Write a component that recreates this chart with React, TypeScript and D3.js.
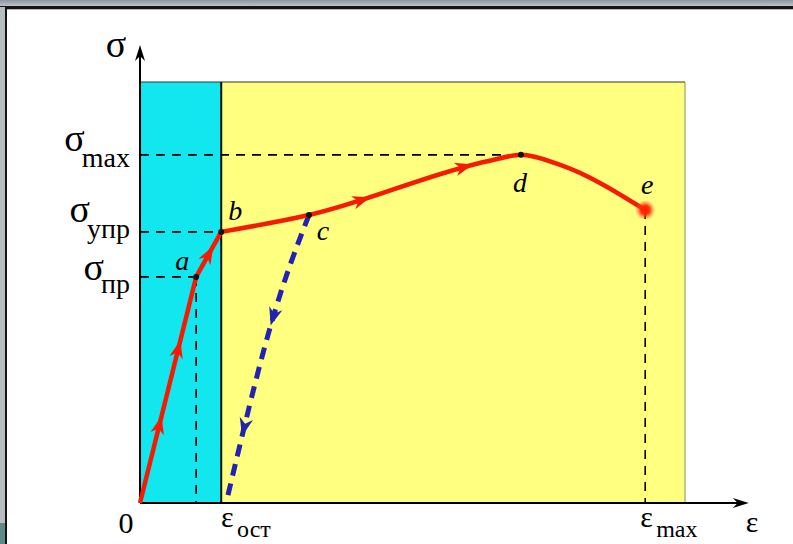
import { useEffect, useRef } from 'react';
import * as d3 from 'd3';

// stress-strain curve, arbitrary units (strain 0..10 across the plot box, stress 0..10 up to its top)
const pointNames = ['0', 'a', 'b', 'c', 'd', 'e'];
const strain = [0, 1.03, 1.49, 3.1, 6.99, 9.27];
const stress = [0, 5.37, 6.44, 6.84, 8.27, 6.96];

// extra points on the hardening part (c..d) and the necking part (d..e)
const hardenStrain = [6.42];
const hardenStress = [8.13];
const neckStrain = [7.71];
const neckStress = [8.03];

// unloading from c back to the residual strain
const unloadStrain = [3.1, 2.39, 1.58];
const unloadStress = [6.84, 4.18, 0];

// tick labels on the axes
const stressTickNames = ['max', 'упр', 'пр'];
const stressTickValues = [8.27, 6.44, 5.37];
const strainTickNames = ['ост', 'max'];
const strainTickValues = [1.58, 9.27];

// where the direction arrows sit (fraction of the path length)
const loadArrows = [0.11, 0.217, 0.354, 0.586, 0.733];
const unloadArrows = [0.36, 0.74];

export default function App() {
  const svgRef = useRef<SVGSVGElement>(null);

  useEffect(() => {
    if (!svgRef.current) return;
    const svg = d3.select(svgRef.current);
    svg.selectAll('*').remove();

    const W = 793, H = 544;
    const x = d3.scaleLinear().domain([0, 10]).range([140, 685]);
    const y = d3.scaleLinear().domain([0, 10]).range([503, 82]);
    const xAxisEnd = x(11.17);
    const yAxisEnd = y(10.88);

    const red = '#f51a00';
    const blue = '#2222b4';
    const serif = '"Liberation Serif", "DejaVu Serif", serif';

    const defs = svg.append('defs');
    const frameGrad = defs.append('linearGradient').attr('id', 'frame').attr('x1', 0).attr('y1', 0).attr('x2', 0).attr('y2', 1);
    frameGrad.append('stop').attr('offset', '0%').attr('stop-color', '#8e979f');
    frameGrad.append('stop').attr('offset', '100%').attr('stop-color', '#c3c9ce');
    const glow = defs.append('radialGradient').attr('id', 'glow');
    glow.append('stop').attr('offset', '0%').attr('stop-color', '#ff1a00').attr('stop-opacity', 1);
    glow.append('stop').attr('offset', '45%').attr('stop-color', '#ff2a00').attr('stop-opacity', 0.95);
    glow.append('stop').attr('offset', '100%').attr('stop-color', '#ff6040').attr('stop-opacity', 0);

    // background + window frame
    svg.append('rect').attr('width', W).attr('height', H).attr('fill', '#ffffff');
    svg.append('rect').attr('width', W).attr('height', 7).attr('fill', 'url(#frame)');
    svg.append('rect').attr('y', 6).attr('width', W).attr('height', 3).attr('fill', '#151515');
    svg.append('rect').attr('y', 9).attr('width', W).attr('height', 1).attr('fill', '#b8b8b8');
    svg.append('rect').attr('y', 7).attr('width', 5).attr('height', H).attr('fill', '#b7bec2');
    svg.append('rect').attr('y', 523).attr('width', 5).attr('height', H - 523).attr('fill', '#5f8a88');
    svg.append('rect').attr('x', 5).attr('y', 7).attr('width', 2).attr('height', H).attr('fill', '#151515');

    // elastic (cyan) and plastic (yellow) zones
    svg.append('rect')
      .attr('x', x(0)).attr('y', y(10))
      .attr('width', x(strain[2]) - x(0)).attr('height', y(0) - y(10))
      .attr('fill', '#12e6ef');
    svg.append('rect')
      .attr('x', x(strain[2])).attr('y', y(10))
      .attr('width', x(10) - x(strain[2])).attr('height', y(0) - y(10))
      .attr('fill', '#ffff80');
    svg.append('line')
      .attr('x1', x(0)).attr('x2', x(10)).attr('y1', y(10)).attr('y2', y(10))
      .attr('stroke', '#333').attr('stroke-width', 1);
    svg.append('line')
      .attr('x1', x(10)).attr('x2', x(10)).attr('y1', y(10)).attr('y2', y(0))
      .attr('stroke', '#8a8a60').attr('stroke-width', 1);
    svg.append('line')
      .attr('x1', x(strain[2])).attr('x2', x(strain[2])).attr('y1', y(10)).attr('y2', y(0))
      .attr('stroke', '#111').attr('stroke-width', 2);

    // dashed guides
    const dash = (x1: number, y1: number, x2: number, y2: number) =>
      svg.append('line')
        .attr('x1', x1).attr('y1', y1).attr('x2', x2).attr('y2', y2)
        .attr('stroke', '#000').attr('stroke-width', 1.6)
        .attr('stroke-dasharray', '9,7');
    stressTickValues.forEach((v, i) => {
      const idx = stress.indexOf(v);
      dash(x(0), y(v), x(strain[idx]), y(v));
      if (i === 2) dash(x(strain[idx]), y(v), x(strain[idx]), y(0));
    });
    dash(x(strain[5]), y(stress[5]), x(strain[5]), y(0));

    // axes
    svg.append('line').attr('x1', x(0)).attr('y1', y(0)).attr('x2', xAxisEnd - 4).attr('y2', y(0))
      .attr('stroke', '#000').attr('stroke-width', 2);
    svg.append('line').attr('x1', x(0)).attr('y1', y(0)).attr('x2', x(0)).attr('y2', yAxisEnd + 4)
      .attr('stroke', '#000').attr('stroke-width', 2);
    svg.append('path')
      .attr('d', `M${xAxisEnd},${y(0)} L${xAxisEnd - 16},${y(0) - 5} L${xAxisEnd - 11},${y(0)} L${xAxisEnd - 16},${y(0) + 5}Z`)
      .attr('fill', '#000');
    svg.append('path')
      .attr('d', `M${x(0)},${yAxisEnd} L${x(0) - 5},${yAxisEnd + 16} L${x(0)},${yAxisEnd + 11} L${x(0) + 5},${yAxisEnd + 16}Z`)
      .attr('fill', '#000');

    // unloading line (blue dashed)
    const unloadPts: [number, number][] = unloadStrain.map((s, i) => [x(s), y(unloadStress[i])]);
    const unloadPath = svg.append('path')
      .attr('d', d3.line().curve(d3.curveNatural)(unloadPts))
      .attr('fill', 'none').attr('stroke', blue).attr('stroke-width', 5)
      .attr('stroke-dasharray', '12,8');

    // loading curve (red)
    const pts: [number, number][] = strain.map((s, i) => [x(s), y(stress[i])]);
    const elastic = d3.line()(pts.slice(0, 3)) as string;
    const plasticPts: [number, number][] = [
      pts[2], pts[3],
      [x(hardenStrain[0]), y(hardenStress[0])],
      pts[4],
      [x(neckStrain[0]), y(neckStress[0])],
      pts[5],
    ];
    const plastic = d3.line().curve(d3.curveMonotoneX)(plasticPts) as string;
    const loadPath = svg.append('path')
      .attr('d', elastic + plastic.replace(/^M/, 'L'))
      .attr('fill', 'none').attr('stroke', red).attr('stroke-width', 4.5)
      .attr('stroke-linejoin', 'round');

    const arrowAlong = (node: SVGPathElement, fracs: number[], color: string, len: number) => {
      const total = node.getTotalLength();
      fracs.forEach(f => {
        const p = node.getPointAtLength(f * total);
        const q = node.getPointAtLength(f * total - 3);
        const ang = (Math.atan2(p.y - q.y, p.x - q.x) * 180) / Math.PI;
        svg.append('path')
          .attr('d', `M${len / 2},0 L${-len / 2},${-len * 0.38} L${-len * 0.2},0 L${-len / 2},${len * 0.38}Z`)
          .attr('transform', `translate(${p.x},${p.y}) rotate(${ang})`)
          .attr('fill', color);
      });
    };
    arrowAlong(loadPath.node() as SVGPathElement, loadArrows, red, 18);
    arrowAlong(unloadPath.node() as SVGPathElement, unloadArrows, blue, 18);

    // marked points
    [1, 2, 3, 4].forEach(i => {
      svg.append('circle').attr('cx', pts[i][0]).attr('cy', pts[i][1]).attr('r', 3).attr('fill', '#111');
    });
    svg.append('circle').attr('cx', pts[5][0]).attr('cy', pts[5][1]).attr('r', 10).attr('fill', 'url(#glow)');

    // point letters
    const letterShift: Record<string, [number, number]> = {
      a: [-14, -7], b: [14, -12], c: [14, 25], d: [-1, 37], e: [2, -16],
    };
    pointNames.slice(1).forEach((n, k) => {
      const i = k + 1;
      svg.append('text')
        .attr('x', pts[i][0] + letterShift[n][0]).attr('y', pts[i][1] + letterShift[n][1])
        .attr('text-anchor', 'middle')
        .style('font-family', serif).style('font-style', 'italic').style('font-size', '28px')
        .text(n);
    });
    svg.append('text')
      .attr('x', x(0) - 14).attr('y', y(0) + 30)
      .attr('text-anchor', 'middle')
      .style('font-family', serif).style('font-size', '30px')
      .text(pointNames[0]);

    // stress axis labels
    svg.append('text')
      .attr('x', x(0) - 24).attr('y', yAxisEnd + 12)
      .attr('text-anchor', 'middle')
      .style('font-family', serif).style('font-size', '38px')
      .text('σ');
    const stressDy: [number, number][] = [[-4, 12], [-10, 6], [3, 16]];
    stressTickNames.forEach((n, i) => {
      const ty = y(stressTickValues[i]);
      const sub = svg.append('text')
        .attr('x', 130).attr('y', ty + stressDy[i][1])
        .attr('text-anchor', 'end')
        .style('font-family', serif).style('font-size', '28px')
        .text(n);
      const w = (sub.node() as SVGTextElement).getComputedTextLength();
      svg.append('text')
        .attr('x', 130 - w + 3).attr('y', ty + stressDy[i][0])
        .attr('text-anchor', 'end')
        .style('font-family', serif).style('font-size', '38px')
        .text('σ');
    });

    // strain axis labels
    strainTickNames.forEach((n, i) => {
      const tx = x(strainTickValues[i]);
      svg.append('text')
        .attr('x', tx - 5).attr('y', y(0) + 24)
        .style('font-family', serif).style('font-size', '30px')
        .text('ε');
      svg.append('text')
        .attr('x', tx + 11).attr('y', y(0) + 34)
        .style('font-family', serif).style('font-size', '24px')
        .text(n);
    });
    svg.append('text')
      .attr('x', xAxisEnd - 3).attr('y', y(0) + 29)
      .style('font-family', serif).style('font-size', '30px')
      .text('ε');
  }, []);

  return (
    <svg
      ref={svgRef}
      width={793}
      height={544}
      style={{ position: 'absolute', left: 0, top: 0, display: 'block' }}
    />
  );
}
